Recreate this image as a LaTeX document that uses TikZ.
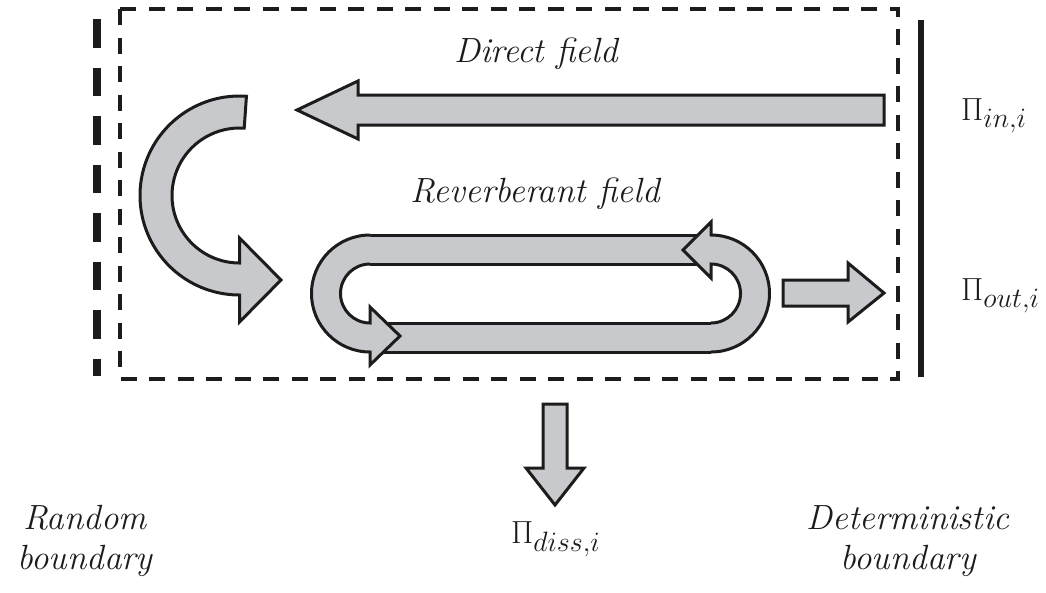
\RequirePackage{fix-cm}
\documentclass[tikz,border=0pt]{standalone}
\DeclareMathSizes{32}{32}{28}{22}
\definecolor{bandgray}{RGB}{200,201,204}
\definecolor{ink}{RGB}{28,28,28}
\tikzset{
  block/.style={fill=bandgray, draw=ink, line width=3pt, line join=miter},
  bandedge/.style={draw=ink, line width=3pt},
  boxline/.style={draw=ink, line width=4pt, dash pattern=on 16pt off 12.5pt},
  randline/.style={draw=ink, line width=8pt, dash pattern=on 28.5pt off 20pt},
  detline/.style={draw=ink, line width=6.5pt},
  fieldlabel/.style={font=\fontsize{35}{40}\selectfont\itshape, inner sep=0pt, text=ink},
  powerlabel/.style={font=\fontsize{32}{38}\selectfont, inner sep=0pt, text=ink, anchor=base west},
}
\begin{document}
\begin{tikzpicture}[x=1pt, y=-1pt]
\useasboundingbox (0,0) rectangle (1046,592);

% subsystem boundary and the two kinds of outer boundary
\draw[boxline] (120,9) rectangle (898,379);
\draw[randline] (97,19) -- (97,376);
\draw[detline] (921,20) -- (921,377);

% direct field: input power travelling to the left
\path[block] (884,95) -- (358,95) -- (358,81) -- (297,110) -- (358,139)
  -- (358,125) -- (884,125) -- cycle;

% curved arrow turning the direct field into the reverberant field
\path[block] (239.5,195.5) ++(-86:99.5) arc[start angle=-86, end angle=-270, radius=99.5]
  -- (239.5,322) -- (281,280) -- (239.5,238) -- (239.5,263)
  arc[start angle=90, end angle=274, radius=67.5] -- cycle;

% reverberant loop: straight runs
\fill[bandgray] (370,235) rectangle (711,264);
\draw[bandedge] (370,235) -- (711,235);
\draw[bandedge] (370,264) -- (711,264);
\fill[bandgray] (370,323) rectangle (711,352);
\draw[bandedge] (370,323) -- (711,323);
\draw[bandedge] (370,352) -- (711,352);

% reverberant loop: left turn with its head
\fill[bandgray] (370,235) arc[start angle=-90, end angle=-270, radius=58.5]
  -- (370,365) -- (400,336) -- (370,307) -- (370,323)
  arc[start angle=90, end angle=270, radius=29.5] -- cycle;
\draw[bandedge, line join=miter] (370,235) arc[start angle=-90, end angle=-270, radius=58.5]
  -- (370,365) -- (400,336) -- (370,307) -- (370,323)
  arc[start angle=90, end angle=270, radius=29.5];

% reverberant loop: right turn with its head
\fill[bandgray] (711,352) arc[start angle=90, end angle=-90, radius=58.5]
  -- (711,222) -- (683,250) -- (711,278) -- (711,264)
  arc[start angle=-90, end angle=90, radius=29.5] -- cycle;
\draw[bandedge, line join=miter] (711,352) arc[start angle=90, end angle=-90, radius=58.5]
  -- (711,222) -- (683,250) -- (711,278) -- (711,264)
  arc[start angle=-90, end angle=90, radius=29.5];

% output power
\path[block] (783,280) -- (848,280) -- (848,263) -- (884,293) -- (848,322)
  -- (848,306) -- (783,306) -- cycle;

% dissipated power
\path[block] (543,404) -- (567,404) -- (567,468) -- (584,468) -- (555,505)
  -- (526,468) -- (543,468) -- cycle;

% labels
\node[fieldlabel, anchor=base] (direct) at (536,62) {Direct field};
\node[fieldlabel, anchor=base] (reverb) at (535,202) {Reverberant field};
\node[fieldlabel, align=center] (random) at (85,541) {Random\\boundary};
\node[fieldlabel, align=center] (determ) at (908,541) {Deterministic\\boundary};
\node[powerlabel] (pin) at (961,120) {$\Pi_{in,i}$};
\node[powerlabel] (pout) at (961,300) {$\Pi_{out,i}$};
\node[powerlabel] (pdiss) at (511,543) {$\Pi_{diss,i}$};
\end{tikzpicture}
\end{document}
